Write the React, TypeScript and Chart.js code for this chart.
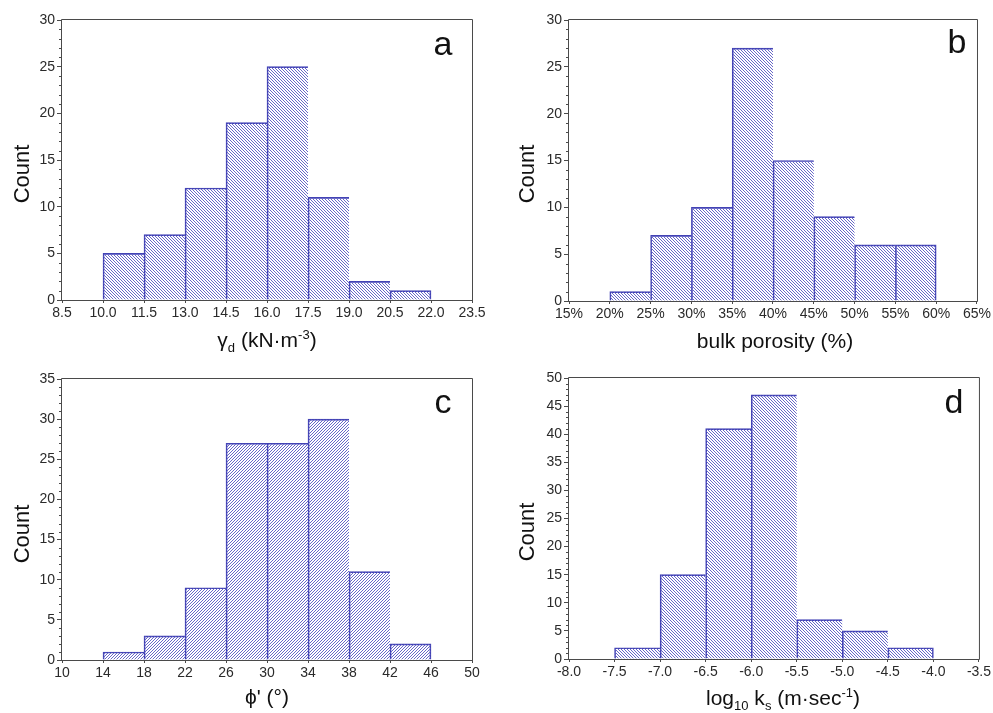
import React, { useEffect, useRef } from 'react';
import { Chart, registerables } from 'chart.js';

Chart.register(...registerables);

// ---------- data ----------
const gammaBinStarts = [10.0, 11.5, 13.0, 14.5, 16.0, 17.5, 19.0, 20.5];
const gammaCounts = [5, 7, 12, 19, 25, 11, 2, 1];
const gammaBinWidth = 1.5;
const gammaXTicks = [8.5, 10.0, 11.5, 13.0, 14.5, 16.0, 17.5, 19.0, 20.5, 22.0, 23.5];
const gammaYTicks = [0, 5, 10, 15, 20, 25, 30];

const porosityBinStarts = [20, 25, 30, 35, 40, 45, 50, 55];
const porosityCounts = [1, 7, 10, 27, 15, 9, 6, 6];
const porosityBinWidth = 5;
const porosityXTicks = [15, 20, 25, 30, 35, 40, 45, 50, 55, 60, 65];
const porosityYTicks = [0, 5, 10, 15, 20, 25, 30];

const phiBinStarts = [14, 18, 22, 26, 30, 34, 38, 42];
const phiCounts = [1, 3, 9, 27, 27, 30, 11, 2];
const phiBinWidth = 4;
const phiXTicks = [10, 14, 18, 22, 26, 30, 34, 38, 42, 46, 50];
const phiYTicks = [0, 5, 10, 15, 20, 25, 30, 35];

const ksBinStarts = [-7.5, -7.0, -6.5, -6.0, -5.5, -5.0, -4.5];
const ksCounts = [2, 15, 41, 47, 7, 5, 2];
const ksBinWidth = 0.5;
const ksXTicks = [-8.0, -7.5, -7.0, -6.5, -6.0, -5.5, -5.0, -4.5, -4.0, -3.5];
const ksYTicks = [0, 5, 10, 15, 20, 25, 30, 35, 40, 45, 50];

// ---------- styles ----------
const FONT = "'Liberation Sans', Arial, sans-serif";
const BAR_EDGE = '#4343b5';
const HATCH = '#6868c8';
const AXIS = '#4a4a4a';
const TICK_TEXT = '#2a2a2a';

function makeHatch(canvas: HTMLCanvasElement, dir: 'back' | 'fwd') {
  const s = 3;
  const tile = document.createElement('canvas');
  tile.width = s;
  tile.height = s;
  const g = tile.getContext('2d')!;
  g.fillStyle = HATCH;
  for (let i = 0; i < s; i++) {
    const x = dir === 'back' ? i : s - 1 - i;
    g.fillRect(x, i, 1, 1);
  }
  return canvas.getContext('2d')!.createPattern(tile, 'repeat');
}

const framePlugin = {
  id: 'frame',
  afterDraw(chart: any) {
    const { ctx, chartArea: a } = chart;
    const y = chart.scales.y;
    ctx.save();
    ctx.strokeStyle = AXIS;
    ctx.lineWidth = 1;
    ctx.beginPath();
    ctx.rect(a.left - 0.5, a.top - 0.5, a.right - a.left + 1, a.bottom - a.top + 1);
    ctx.stroke();
    // minor ticks on y axis (every 1 count)
    ctx.beginPath();
    for (let v = y.min; v <= y.max; v += 1) {
      if (v % 5 === 0) continue;
      const py = Math.round(y.getPixelForValue(v)) + 0.5;
      ctx.moveTo(a.left - 3, py);
      ctx.lineTo(a.left - 0.5, py);
    }
    ctx.stroke();
    ctx.restore();
  },
};

type PanelDef = {
  starts: number[];
  counts: number[];
  binWidth: number;
  xTicks: number[];
  yTicks: number[];
  fmt: (v: number) => string;
  hatch: 'back' | 'fwd';
  left: number;
  top: number;
  w: number;
  h: number;
  area: { left: number; top: number; right: number; bottom: number };
};

function HistPanel({ p }: { p: PanelDef }) {
  const ref = useRef<HTMLCanvasElement>(null);
  useEffect(() => {
    const canvas = ref.current!;
    const pattern = makeHatch(canvas, p.hatch);
    const last = p.counts.length - 1;
    const chart = new Chart(canvas, {
      type: 'bar',
      data: {
        datasets: [
          {
            data: p.starts.map((s, i) => ({ x: s + p.binWidth / 2, y: p.counts[i] })),
            backgroundColor: pattern as any,
            borderColor: BAR_EDGE,
            borderWidth: ((c: any) => ({ top: 1, left: 1, bottom: 0, right: c.dataIndex === last ? 1 : 0 })) as any,
            borderSkipped: false,
            barPercentage: 1,
            categoryPercentage: 1,
          },
        ],
      },
      options: {
        responsive: false,
        animation: false,
        events: [],
        layout: { padding: { top: p.area.top, right: p.w - p.area.right, left: 0, bottom: 0 } },
        plugins: { legend: { display: false }, tooltip: { enabled: false } },
        scales: {
          x: {
            type: 'linear',
            min: p.xTicks[0],
            max: p.xTicks[p.xTicks.length - 1],
            offset: false,
            afterBuildTicks: (s: any) => {
              s.ticks = p.xTicks.map((v) => ({ value: v }));
            },
            afterFit: (s: any) => {
              s.height = p.h - p.area.bottom;
            },
            grid: { display: true, drawOnChartArea: false, drawTicks: true, tickLength: 3, color: AXIS, offset: false },
            border: { display: false },
            ticks: {
              autoSkip: false,
              maxRotation: 0,
              padding: 2,
              color: TICK_TEXT,
              font: { family: FONT, size: 14 },
              callback: (v: any) => p.fmt(Number(v)),
            },
          },
          y: {
            type: 'linear',
            min: p.yTicks[0],
            max: p.yTicks[p.yTicks.length - 1],
            afterBuildTicks: (s: any) => {
              s.ticks = p.yTicks.map((v) => ({ value: v }));
            },
            afterFit: (s: any) => {
              s.width = p.area.left;
            },
            grid: { display: true, drawOnChartArea: false, drawTicks: true, tickLength: 5, color: AXIS },
            border: { display: false },
            ticks: {
              padding: 2,
              color: TICK_TEXT,
              font: { family: FONT, size: 14 },
              callback: (v: any) => String(v),
            },
          },
        },
      },
      plugins: [framePlugin],
    } as any);
    return () => chart.destroy();
  }, []);
  return (
    <canvas
      ref={ref}
      width={p.w}
      height={p.h}
      style={{ position: 'absolute', left: p.left, top: p.top, width: p.w, height: p.h }}
    />
  );
}

const panels: PanelDef[] = [
  {
    starts: gammaBinStarts, counts: gammaCounts, binWidth: gammaBinWidth,
    xTicks: gammaXTicks, yTicks: gammaYTicks, fmt: (v) => v.toFixed(1), hatch: 'back',
    left: 0, top: 0, w: 496, h: 356, area: { left: 62, top: 20, right: 472, bottom: 300 },
  },
  {
    starts: porosityBinStarts, counts: porosityCounts, binWidth: porosityBinWidth,
    xTicks: porosityXTicks, yTicks: porosityYTicks, fmt: (v) => `${Math.round(v)}%`, hatch: 'back',
    left: 496, top: 0, w: 497, h: 356, area: { left: 73, top: 20, right: 483, bottom: 301 },
  },
  {
    starts: phiBinStarts, counts: phiCounts, binWidth: phiBinWidth,
    xTicks: phiXTicks, yTicks: phiYTicks, fmt: (v) => String(Math.round(v)), hatch: 'fwd',
    left: 0, top: 356, w: 496, h: 357, area: { left: 62, top: 23, right: 472, bottom: 304 },
  },
  {
    starts: ksBinStarts, counts: ksCounts, binWidth: ksBinWidth,
    xTicks: ksXTicks, yTicks: ksYTicks, fmt: (v) => v.toFixed(1), hatch: 'back',
    left: 496, top: 356, w: 497, h: 357, area: { left: 73, top: 22, right: 483, bottom: 303 },
  },
];

const BASE = 0.8464; // baseline offset in em for line-height 1 (Liberation Sans)

function HText({ cx, baseline, size, children }: { cx: number; baseline: number; size: number; children: any }) {
  return (
    <div
      style={{
        position: 'absolute',
        left: cx,
        top: baseline - BASE * size,
        transform: 'translateX(-50%)',
        fontFamily: FONT,
        fontSize: size,
        lineHeight: 1,
        whiteSpace: 'nowrap',
        color: '#111',
      }}
    >
      {children}
    </div>
  );
}

function VText({ baselineX, cy, size, children }: { baselineX: number; cy: number; size: number; children: any }) {
  const W = 120;
  const cx = baselineX - (BASE - 0.5) * size;
  return (
    <div
      style={{
        position: 'absolute',
        left: cx - W / 2,
        top: cy - size / 2,
        width: W,
        height: size,
        textAlign: 'center',
        transform: 'rotate(-90deg)',
        transformOrigin: '50% 50%',
        fontFamily: FONT,
        fontSize: size,
        lineHeight: 1,
        whiteSpace: 'nowrap',
        color: '#111',
      }}
    >
      {children}
    </div>
  );
}

const Sub = ({ children }: { children: any }) => (
  <span style={{ fontSize: '0.62em', position: 'relative', top: '0.35em' }}>{children}</span>
);
const Sup = ({ children }: { children: any }) => (
  <span style={{ fontSize: '0.62em', position: 'relative', top: '-0.62em' }}>{children}</span>
);

export default function App() {
  return (
    <div style={{ position: 'absolute', left: 0, top: 0, width: 993, height: 713, background: '#fff', overflow: 'hidden' }}>
      {panels.map((p, i) => (
        <HistPanel key={i} p={p} />
      ))}

      {/* y-axis titles */}
      <VText baselineX={30} cy={174} size={22}>Count</VText>
      <VText baselineX={535} cy={174} size={22}>Count</VText>
      <VText baselineX={30} cy={534} size={22}>Count</VText>
      <VText baselineX={535} cy={532} size={22}>Count</VText>

      {/* x-axis titles */}
      <HText cx={267} baseline={347} size={21}>
        γ<Sub>d</Sub> (kN·m<Sup>-3</Sup>)
      </HText>
      <HText cx={775} baseline={348} size={21}>bulk porosity (%)</HText>
      <HText cx={267} baseline={704} size={21}>ϕ' (°)</HText>
      <HText cx={783} baseline={705} size={21}>
        log<Sub>10</Sub> k<Sub>s</Sub> (m·sec<Sup>-1</Sup>)
      </HText>

      {/* panel letters */}
      <HText cx={443} baseline={55} size={34}>a</HText>
      <HText cx={957} baseline={53} size={34}>b</HText>
      <HText cx={443} baseline={413} size={34}>c</HText>
      <HText cx={954} baseline={413} size={34}>d</HText>
    </div>
  );
}
